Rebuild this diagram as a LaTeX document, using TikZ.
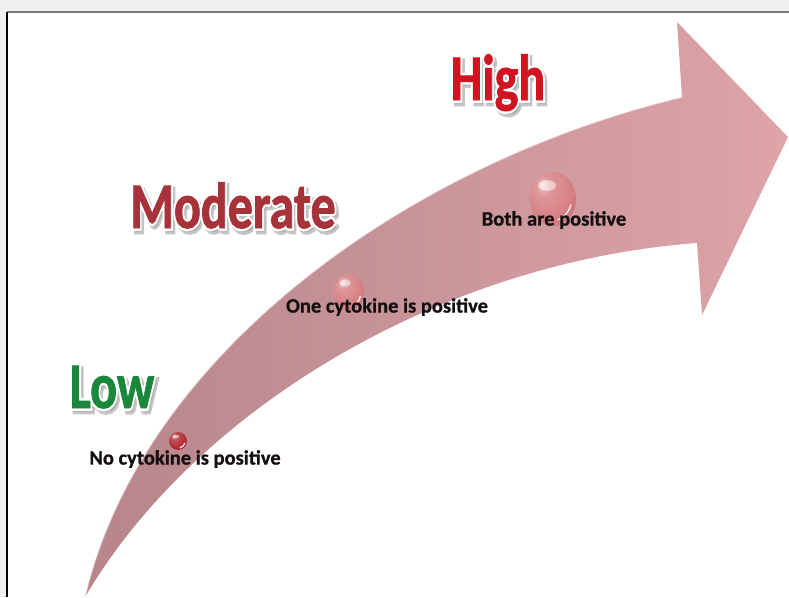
\documentclass[tikz,border=0pt]{standalone}
\usepackage{fontspec}
\usepackage{graphicx}
\setmainfont{Carlito}
% emboldened cuts of the same face for the outlined titles
\newfontfamily\artrimfont{Carlito}[BoldFeatures={FakeBold=9}]
\newfontfamily\artfillfont{Carlito}[BoldFeatures={FakeBold=1.5}]
\newfontfamily\labelfont{Carlito}[BoldFeatures={FakeBold=0.8}]
\usetikzlibrary{calc}

\definecolor{pagegray}{RGB}{240,240,240}
\definecolor{framegray}{RGB}{120,120,120}
\definecolor{arrowtail}{RGB}{182,134,139}
\definecolor{arrowhead}{RGB}{222,164,168}
\definecolor{highred}{RGB}{208,20,32}
\definecolor{modred}{RGB}{168,50,58}
\definecolor{lowgreen}{RGB}{26,136,58}
\definecolor{labelink}{RGB}{20,16,16}
\definecolor{beadpink}{RGB}{214,126,130}
\definecolor{beadred}{RGB}{178,40,50}

% glossy bead: light spot up-left, darker rim
\pgfdeclareradialshading[beadc]{bead}{\pgfpoint{-12bp}{14bp}}{%
  color(0bp)=(beadc!30!white);
  color(8bp)=(beadc!80!white);
  color(28bp)=(beadc);
  color(42bp)=(beadc!80!black);
  color(60bp)=(beadc!80!black)}

\tikzset{
  wordart/.style={inner sep=0pt, anchor=base, font=\fontsize{50}{50}\selectfont},
  artshadow/.style={wordart, text=black!45, opacity=.5},
  artrim/.style={wordart, text=white},
  stagelabel/.style={inner sep=0pt, font=\labelfont\fontsize{20.5}{20.5}\selectfont\bfseries, text=labelink},
  glint/.style={white, opacity=.5, line width=1.5},
}

% outlined word with drop shadow: #1 name, #2 base point, #3 colour, #4 text
\newcommand{\artword}[4]{%
  \node[artshadow] at ($(#2)+(2.5,3.5)$) {\scalebox{1}[1.3]{\artrimfont\bfseries #4}};
  \node[artrim] at (#2) {\scalebox{1}[1.3]{\artrimfont\bfseries #4}};
  \node[wordart, text=#3] (#1) at (#2) {\scalebox{1}[1.3]{\artfillfont\bfseries #4}};
}

% glossy bead: #1 name, #2 centre, #3 x radius, #4 y radius, #5 colour
\newcommand{\bead}[5]{%
  \colorlet{beadc}{#5}%
  \coordinate (#1) at (#2);
  \shade[shading=bead] (#1) ellipse [x radius=#3, y radius=#4];
  \fill[white, opacity=.5] ($(#1)+({-0.25*#3},{-0.5*#4})$) ellipse [x radius={0.38*#3}, y radius={0.2*#4}];
  \draw[white, opacity=.85, line width=1.3]
    ($(#1)+({0.8*#3*cos(15)},{0.8*#4*sin(15)})$)
    arc[start angle=15, end angle=75, x radius={0.8*#3}, y radius={0.8*#4}];
}

\begin{document}
\begin{tikzpicture}[x=1pt, y=-1pt]
  \useasboundingbox (0,0) rectangle (789,597);

  % window frame
  \fill[pagegray] (0,0) rectangle (789,597);
  \fill[white] (7,12) rectangle (789,597);
  \draw[framegray, line width=1.5] (7,12) -- (789,12);
  \draw[black, line width=1.2] (7,12) -- (7,597);

  % curved arrow
  \coordinate (tail)   at (85,597);
  \coordinate (notchU) at (682,97);
  \coordinate (headT)  at (677,22);
  \coordinate (tip)    at (788,137);
  \coordinate (headB)  at (702,315);
  \coordinate (notchL) at (697,243);
  \shade[left color=arrowtail, right color=arrowhead]
    (tail) .. controls (140,360) and (400,165) .. (notchU)
    -- (headT) -- (tip) -- (headB) -- (notchL)
    .. controls (440,262) and (195,410) .. (tail) -- cycle;
  \draw[glint] (tail) .. controls (140,360) and (400,165) .. (notchU);

  % stage beads
  \bead{beadlow}{178,441}{9}{9}{beadred}
  \bead{beadmid}{349,292}{15}{18}{beadpink}
  \bead{beadhigh}{553,199}{23}{27}{beadpink}

  % level titles
  \artword{high}{498,100}{highred}{High}
  \artword{moderate}{233,228}{modred}{Moderate}
  \artword{low}{112,408}{lowgreen}{Low}

  % stage descriptions
  \node[stagelabel] (none) at (185,459) {No cytokine is positive};
  \node[stagelabel] (one)  at (387,307) {One cytokine is positive};
  \node[stagelabel] (both) at (554,220) {Both are positive};
\end{tikzpicture}
\end{document}
